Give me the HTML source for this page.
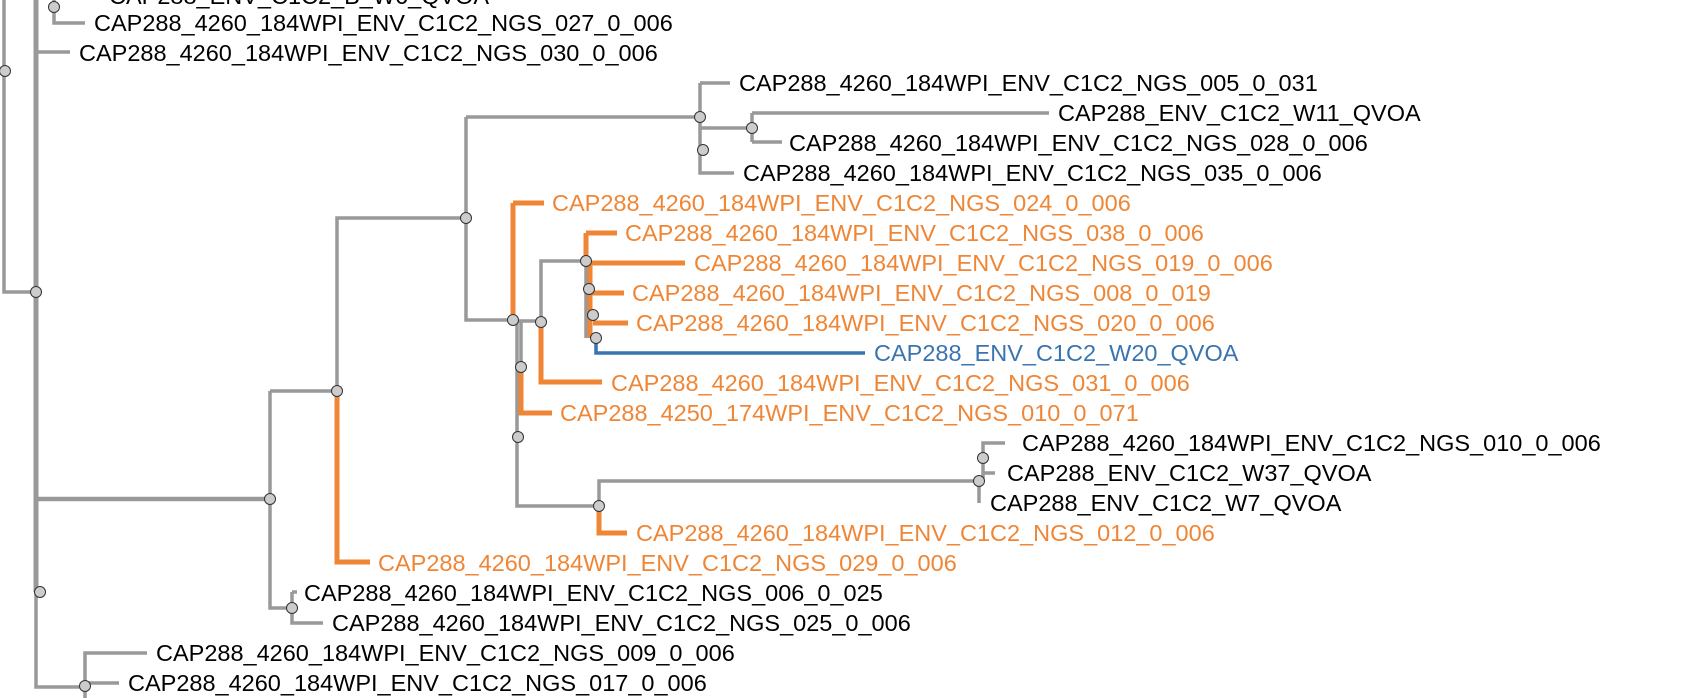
<!DOCTYPE html>
<html><head><meta charset="utf-8"><style>
html,body{margin:0;padding:0;background:#fff;width:1702px;height:698px;overflow:hidden}
svg{display:block}
text{font-family:"Liberation Sans",Arial,sans-serif;font-size:23.5px;dominant-baseline:central}
.g{fill:none;stroke:#999;stroke-width:3.5}
.o{fill:none;stroke:#ef8636;stroke-width:5}
.b{fill:none;stroke:#3a74b0;stroke-width:3.5}
circle{fill:#ccc;stroke:#333;stroke-width:1}
.k{fill:#000}.to{fill:#ef8636}.tb{fill:#3a74b0}
</style></head><body>
<svg width="1702" height="698" viewBox="0 0 1702 698" xmlns="http://www.w3.org/2000/svg">
<!-- left root structure -->
<path class="g" d="M4,0V292H36"/>
<path class="g" style="stroke-width:5" d="M36,0V592"/>
<path class="g" d="M36,592V687H85"/>
<path class="g" d="M54,-5V23H85"/>
<path class="g" d="M37,52H70"/>
<!-- big clade -->
<path class="g" style="stroke-width:4.5" d="M36,499H270"/>
<path class="g" d="M270,391V608H292"/>
<path class="g" d="M292,592V623H323"/>
<path class="g" d="M292,592H297"/>
<path class="g" d="M270,391H337"/>
<path class="o" d="M337,391V562H370"/>
<path class="g" d="M337,391V218H466"/>
<path class="g" d="M466,117V320H513"/>
<path class="g" d="M466,117H700"/>
<path class="g" d="M700,83H730M700,83V173H734"/>
<path class="g" d="M700,128H752M752,113V142M752,113H1049M752,142H782"/>
<!-- orange clade -->
<path class="o" d="M513,203H544M513,203V320"/>
<path class="g" d="M513,321H541"/>
<path class="g" d="M517,320V437"/>
<path class="g" d="M521,320V367"/>
<path class="o" d="M521,367V413H552"/>
<path class="g" d="M541,322V261H586"/>
<path class="o" d="M541,322V382H602"/>
<path class="o" d="M586,233H617M586,233V263H685"/>
<path class="g" d="M586,261V338"/>
<path class="o" d="M590,293H624M593,323H628"/>
<path class="o" d="M590,263V338"/>
<path class="b" d="M596,338V353H865"/>
<path class="g" d="M517,437V506H599"/>
<path class="g" d="M599,506V481H979"/>
<path class="o" d="M599,506V533H627"/>
<path class="g" d="M979,481V503M983,458V443H1005M983,458V481M983,473H995"/>
<path class="g" d="M85,687V653H147M85,683H119M85,687V698"/>
<!-- nodes -->
<circle cx="54" cy="7" r="5.5"/><circle cx="5" cy="71" r="5.5"/><circle cx="36" cy="292" r="5.5"/>
<circle cx="40" cy="592" r="5.5"/><circle cx="85" cy="686" r="5.5"/>
<circle cx="270" cy="499" r="5.5"/><circle cx="337" cy="391" r="5.5"/><circle cx="292" cy="608" r="5.5"/>
<circle cx="466" cy="218" r="5.5"/><circle cx="700" cy="117" r="5.5"/><circle cx="752" cy="128" r="5.5"/><circle cx="703" cy="150" r="5.5"/>
<circle cx="513" cy="320" r="5.5"/><circle cx="541" cy="322" r="5.5"/><circle cx="521" cy="367" r="5.5"/><circle cx="518" cy="437" r="5.5"/>
<circle cx="586" cy="261" r="5.5"/><circle cx="589" cy="289" r="5.5"/><circle cx="593" cy="315" r="5.5"/><circle cx="596" cy="338" r="5.5"/>
<circle cx="599" cy="506" r="5.5"/><circle cx="979" cy="481" r="5.5"/><circle cx="983" cy="458" r="5.5"/>
<!-- labels -->
<text class="k" x="109" y="-4">CAP288_ENV_C1C2_B_W6_QVOA</text>
<text class="k" x="94" y="23">CAP288_4260_184WPI_ENV_C1C2_NGS_027_0_006</text>
<text class="k" x="79" y="53">CAP288_4260_184WPI_ENV_C1C2_NGS_030_0_006</text>
<text class="k" x="739" y="83">CAP288_4260_184WPI_ENV_C1C2_NGS_005_0_031</text>
<text class="k" x="1058" y="113">CAP288_ENV_C1C2_W11_QVOA</text>
<text class="k" x="789" y="143">CAP288_4260_184WPI_ENV_C1C2_NGS_028_0_006</text>
<text class="k" x="743" y="173">CAP288_4260_184WPI_ENV_C1C2_NGS_035_0_006</text>
<text class="to" x="552" y="203">CAP288_4260_184WPI_ENV_C1C2_NGS_024_0_006</text>
<text class="to" x="625" y="233">CAP288_4260_184WPI_ENV_C1C2_NGS_038_0_006</text>
<text class="to" x="694" y="263">CAP288_4260_184WPI_ENV_C1C2_NGS_019_0_006</text>
<text class="to" x="632" y="293">CAP288_4260_184WPI_ENV_C1C2_NGS_008_0_019</text>
<text class="to" x="636" y="323">CAP288_4260_184WPI_ENV_C1C2_NGS_020_0_006</text>
<text class="tb" x="874" y="353">CAP288_ENV_C1C2_W20_QVOA</text>
<text class="to" x="611" y="383">CAP288_4260_184WPI_ENV_C1C2_NGS_031_0_006</text>
<text class="to" x="560" y="413">CAP288_4250_174WPI_ENV_C1C2_NGS_010_0_071</text>
<text class="k" x="1022" y="443">CAP288_4260_184WPI_ENV_C1C2_NGS_010_0_006</text>
<text class="k" x="1007" y="473">CAP288_ENV_C1C2_W37_QVOA</text>
<text class="k" x="990" y="503">CAP288_ENV_C1C2_W7_QVOA</text>
<text class="to" x="636" y="533">CAP288_4260_184WPI_ENV_C1C2_NGS_012_0_006</text>
<text class="to" x="378" y="563">CAP288_4260_184WPI_ENV_C1C2_NGS_029_0_006</text>
<text class="k" x="304" y="593">CAP288_4260_184WPI_ENV_C1C2_NGS_006_0_025</text>
<text class="k" x="332" y="623">CAP288_4260_184WPI_ENV_C1C2_NGS_025_0_006</text>
<text class="k" x="156" y="653">CAP288_4260_184WPI_ENV_C1C2_NGS_009_0_006</text>
<text class="k" x="128" y="683">CAP288_4260_184WPI_ENV_C1C2_NGS_017_0_006</text>
</svg>
</body></html>
